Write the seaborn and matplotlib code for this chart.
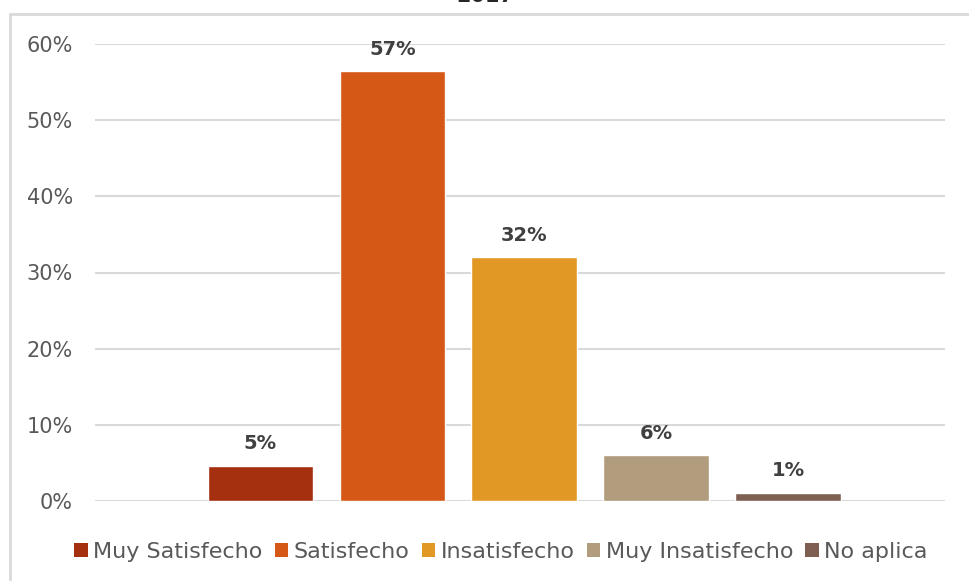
import matplotlib
matplotlib.use("Agg")
import matplotlib.pyplot as plt
import seaborn as sns
import pandas as pd
from matplotlib.lines import Line2D
from matplotlib.patches import Patch
from matplotlib.ticker import PercentFormatter

# data
categories = ["Muy Satisfecho", "Satisfecho", "Insatisfecho", "Muy Insatisfecho", "No aplica"]
values = [0.046, 0.564, 0.320, 0.060, 0.011]
labels = ["5%", "57%", "32%", "6%", "1%"]
colors = ["#A5300F", "#D55816", "#E19825", "#B19C7D", "#7F5F52"]
title = "2017"

df = pd.DataFrame({"grupo": [""] * len(categories), "respuesta": categories, "valor": values})

sns.set_style("white")
plt.rcParams["font.family"] = ["DejaVu Sans"]

fig = plt.figure(figsize=(9.7, 5.81), dpi=100)
ax = fig.add_axes([95 / 970, 1 - 501 / 581, 850 / 970, (501 - 44) / 581])

sns.barplot(data=df, x="grupo", y="valor", hue="respuesta", hue_order=categories,
            palette=colors, width=0.776, gap=0.2, legend=False, ax=ax, saturation=1)

ax.set_xlim(-0.505, 0.495)
ax.set_ylim(0, 0.6)
ax.yaxis.set_major_formatter(PercentFormatter(1.0, decimals=0))
ax.set_yticks([0, 0.1, 0.2, 0.3, 0.4, 0.5, 0.6])
ax.tick_params(axis="y", length=0, pad=16, labelsize=15, labelcolor="#595959")
ax.set_xticks([])
ax.set_xlabel("")
ax.set_ylabel("")
ax.grid(axis="y", color="#D9D9D9", linewidth=1.5)
ax.set_axisbelow(True)
for s in ax.spines.values():
    s.set_visible(False)

for cont, lab in zip(ax.containers, labels):
    ax.bar_label(cont, labels=[lab], padding=9, fontsize=14, fontweight="bold", color="#404040")

handles = [Patch(facecolor=c, edgecolor="none") for c in colors]
fig.legend(handles, categories, loc="center", bbox_to_anchor=(501 / 970, 1 - 552 / 581),
           ncol=5, frameon=False, fontsize=16, labelcolor="#595959",
           handlelength=0.6, handleheight=0.6, handletextpad=0.25, columnspacing=0.55)

fig.text(0.5, 1 - 2 / 581, title, ha="center", va="baseline", fontsize=15, fontweight="bold", color="#262626")

# chart frame (partially cropped)
fig.add_artist(Line2D([10 / 970, 1], [1 - 14 / 581, 1 - 14 / 581], color="#D9D9D9", linewidth=2, transform=fig.transFigure))
fig.add_artist(Line2D([10 / 970, 10 / 970], [0, 1 - 14 / 581], color="#D9D9D9", linewidth=2, transform=fig.transFigure))

fig.savefig("out.png", dpi=100)
